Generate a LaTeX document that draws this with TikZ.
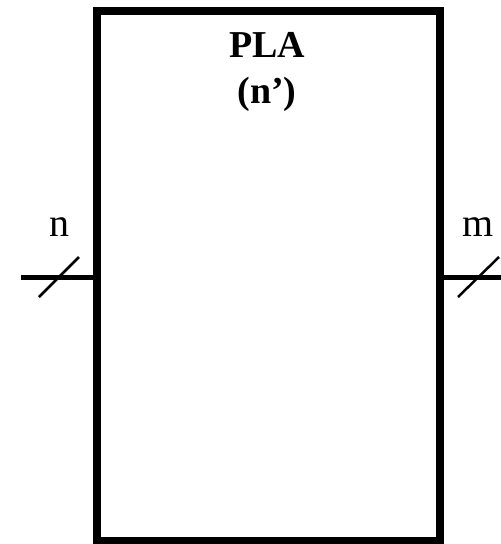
\documentclass[tikz,border=0pt]{standalone}
\usepackage{fontspec}
\setmainfont{Liberation Serif}
\begin{document}
\begin{tikzpicture}[x=1pt,y=-1pt,
  blockbox/.style={draw,line width=8pt},
  bus/.style={line width=5pt},
  busmark/.style={line width=2.5pt},
  lbl/.style={font=\fontsize{40}{40}\selectfont,anchor=base,inner sep=0pt},
  title/.style={font=\bfseries\fontsize{38}{46}\selectfont,anchor=base,inner sep=0pt}]
\useasboundingbox (0,0) rectangle (501,544);
\draw[blockbox] (97,11) rectangle (440,541);
\coordinate (inL) at (21,277);
\coordinate (inR) at (97,277);
\coordinate (outL) at (440,277);
\coordinate (outR) at (503,277);
\node[title] (t1) at (267,57) {PLA};
\node[title] (t2) at (267,103) {(n’)};
\draw[bus] (inL) -- (inR);
\draw[bus] (outL) -- (outR);
\coordinate (s1a) at (39,297); \coordinate (s1b) at (79,257);
\coordinate (s2a) at (458,297); \coordinate (s2b) at (499,257);
\draw[busmark] (s1a) -- (s1b);
\draw[busmark] (s2a) -- (s2b);
\node[lbl] (n) at (59,236) {n};
\node[lbl] (m) at (478,236) {m};
\end{tikzpicture}
\end{document}
